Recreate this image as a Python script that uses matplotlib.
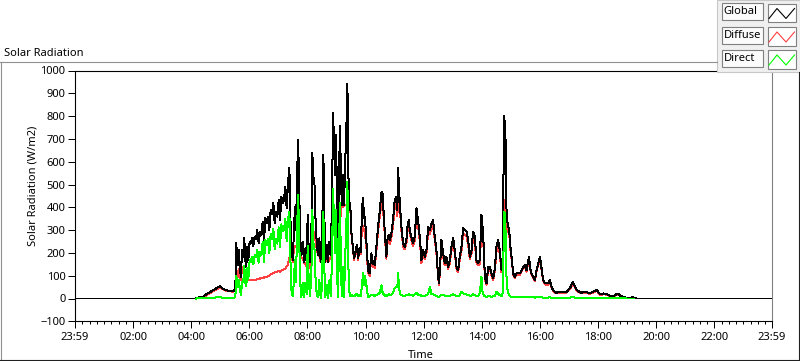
import numpy as np
import matplotlib
matplotlib.use("Agg")
import matplotlib.pyplot as plt
from matplotlib.lines import Line2D
from matplotlib.patches import Rectangle

plt.rcParams['font.family'] = ['Noto Sans', 'DejaVu Sans']

nan = np.nan
# time of day in minutes after midnight
t_min = [0, 250, 255, 258, 262, 271, 285, 299, 305, 312, 326, 331,
         333, 335, 336.5, 338.5, 340.6, 342.7, 344.7, 347.5, 349.5, 351.6, 353.7, 355.8, 357.8,
         360.6, 362.6, 365.4, 368.2, 371, 373.7, 376.4, 379.2, 382, 384.7, 387.5, 390.2, 393,
         395.7, 398.5, 401.2, 404, 406.7, 409.5, 412.3, 415, 417.8, 420.5, 423.3, 426, 428.8,
         431.5, 434.3, 437, 439.8, 442.6, 444.6, 446.7, 449.5, 452.2, 454, 456, 458, 460.4,
         462.5, 464.5, 467.3, 470, 472.8, 475.5, 478.3, 480.4, 482.4, 485.2, 488, 490, 492.1,
         494.1, 496.2, 499, 501.7, 504.5, 507.2, 510, 512.8, 514.8, 516.9, 519.6, 522.4, 525.2,
         527.9, 530.7, 532.7, 534.8, 536.9, 539, 541, 543.1, 545.1, 547.2, 549.3, 551.3, 553.4,
         555.5, 557.5, 560.3, 562.4, 564.4, 566.5, 568.6, 570.6, 573.4, 576.1, 578.9, 581.7,
         584.4, 587.2, 589.9, 592.7, 594.7, 596.8, 598.5, 601.5, 605, 608.4, 611.9, 615.3,
         618.8, 622.2, 625.7, 629.1, 632.6, 634.6, 638.1, 640.8, 642.9, 645, 647.7, 650.5,
         653.2, 656.7, 660.1, 663.6, 665.6, 667, 669.1, 671.1, 673.9, 677.3, 680.8, 684.2,
         686.3, 689, 691.1, 694.6, 698, 701.5, 704.9, 707, 709.7, 712.5, 715.2, 718.7, 722.1,
         725.6, 729, 732.5, 735.9, 739.3, 742.8, 746.2, 749.7, 751.7, 756.5, 760, 763.4, 766.9,
         770.3, 773.8, 777.2, 780.7, 784.1, 787.6, 791, 794.4, 797.9, 801.3, 804.8, 808.2,
         811.7, 815.1, 818.6, 822, 825.4, 828.9, 832.3, 835.8, 839.2, 841.3, 844, 846.1, 849.6,
         853, 856.5, 859.9, 863.3, 866.8, 870.2, 873.7, 877.1, 880.6, 882.6, 884, 885.4, 886.1,
         887.5, 888.8, 890.9, 893, 896.4, 899.2, 901.2, 904.7, 908.1, 911.6, 915, 918.4, 921.9,
         925.3, 928.8, 932.2, 935.7, 937.7, 939.1, 942.6, 946, 949.4, 952.9, 956.3, 959.8,
         961.8, 964.6, 966.7, 970.1, 974, 977, 980.5, 983.9, 987.3, 994, 1001, 1008, 1015,
         1021.7, 1028, 1032, 1036, 1041, 1046, 1053, 1063, 1070, 1077.5, 1084, 1091, 1098,
         1104, 1110, 1115, 1121, 1126, 1131, 1139, 1145, 1150, 1155, 1160, 1440]

global_wm2 = [0, 0, 5, 8, 4, 18, 36, 54, 44, 36, 31, 40,
              242, 168, 146, 212, 124, 95, 212, 183, 264, 168, 139, 227, 168,
              249, 240, 264, 230, 271, 262, 300, 242, 290, 280, 337, 250, 352,
              330, 359, 300, 388, 370, 418, 330, 380, 359, 432, 344, 447, 420,
              432, 491, 396, 506, 572, 359, 242, 168, 300, 400, 300, 469, 696,
              542, 278, 190, 249, 161, 220, 161, 366, 220, 161, 278, 638, 513,
              528, 366, 249, 190, 264, 161, 249, 630, 366, 161, 234, 161, 249,
              190, 425, 813, 689, 542, 718, 410, 249, 542, 755, 498, 410, 542,
              410, 572, 748, 941, 542, 425, 396, 293, 234, 176, 205, 234,
              176, 220, 205, 396, 440, 352, 359, 256, 124, 110, 198, 154,
              147, 227, 315, 381, 462, 469, 344, 256, 183, 256, 278, 256,
              286, 344, 432, 447, 388, 572, 476, 403, 315, 242, 227, 256,
              315, 344, 300, 271, 242, 271, 396, 359, 315, 256, 168, 212, 183,
              212, 315, 300, 330, 344, 271, 212, 95, 66, 256, 198, 154, 183,
              139, 168, 227, 264, 212, 139, 124, 183, 227, 308, 300, 293,
              256, 183, 212, 293, 271, 168, 154, 168, 366, 315, 227, 95, 66,
              139, 139, 110, 88, 132, 227, 256, 212, 124, 168, 432, 700, 799,
              760, 700, 388, 330, 300, 220, 183, 110, 95, 110, 110, 110, 124,
              139, 146, 124, 168, 183, 139, 110, 95, 80, 124, 154, 183,
              154, 110, 80, 66, 66, 66, 80, 51, 35, 25, 29, 27, 29,
              45, 73, 55, 36, 30, 25, 30, 23, 30, 37, 18, 22, 19,
              12, 10, 15, 22, 12, 8, 3, 0, 6, 2, 0, 0]

diffuse_wm2 = [nan, 0, 3, 5, 3, 14, 32, 47, 42, 34, 30, 38,
               125, 105, 95, 130, 90, 80, 140, 110, 120, 95, 85, 90, 80,
               80, 80, 80, 80, 82, 82, 85, 85, 88, 88, 90, 92, 95,
               95, 98, 100, 105, 108, 112, 115, 118, 118, 120, 118, 122, 125,
               128, 132, 140, 150, 180, 170, 200, 160, 220, 230, 225, 230, 230,
               220, 200, 180, 175, 160, 150, 140, 135, 132, 140, 180, 250, 290,
               293, 260, 220, 190, 190, 160, 200, 249, 240, 160, 170, 160, 170,
               180, 260, 340, 352, 340, 330, 300, 245, 290, 330, 396, 400, 400,
               405, 410, 410, 420, 400, 396, 390, 285, 225, 170, 195, 222,
               170, 210, 195, 330, 308, 300, 290, 230, 115, 100, 185, 140,
               135, 210, 295, 355, 420, 440, 330, 245, 175, 240, 260, 240,
               270, 320, 400, 420, 360, 460, 430, 380, 300, 230, 215, 240,
               300, 325, 285, 255, 230, 255, 370, 335, 295, 240, 155, 200, 172,
               198, 295, 282, 310, 320, 255, 200, 90, 60, 240, 185, 145, 170,
               130, 155, 210, 245, 198, 130, 115, 170, 210, 285, 280, 272,
               240, 172, 198, 272, 252, 158, 145, 150, 330, 290, 212, 88, 60,
               130, 130, 102, 80, 120, 205, 235, 195, 115, 150, 300, 400, 430,
               420, 400, 330, 300, 285, 210, 175, 105, 90, 105, 105, 104, 118,
               132, 138, 118, 160, 172, 132, 104, 90, 76, 118, 146, 172,
               146, 104, 76, 62, 60, 60, 74, 47, 32, 22, 26, 24, 26,
               40, 68, 50, 33, 27, 22, 27, 20, 27, 33, 15, 19, 16,
               10, 8, 12, 18, 9, 6, 2, 0, 4, 1, nan, nan]

direct_wm2 = [nan, 0, 1, 2, 1, 3, 4, 5, 4, 3, 3, 5,
              100, 60, 50, 80, 35, 15, 70, 75, 145, 70, 55, 135, 85,
              169, 160, 184, 150, 189, 180, 215, 157, 202, 192, 247, 158, 257,
              235, 261, 200, 283, 262, 306, 215, 262, 241, 312, 226, 325, 295,
              304, 350, 250, 350, 380, 180, 40, 10, 80, 170, 70, 240, 454,
              330, 80, 5, 70, 5, 70, 20, 230, 90, 10, 100, 390, 220,
              240, 100, 20, 5, 80, 3, 50, 380, 130, 5, 60, 3, 80,
              10, 170, 480, 340, 200, 390, 110, 5, 250, 420, 100, 10, 140,
              5, 160, 330, 513, 140, 30, 10, 15, 12, 10, 15, 20,
              10, 15, 12, 60, 110, 60, 100, 60, 7, 10, 15, 15,
              12, 15, 18, 25, 58, 30, 15, 12, 10, 15, 18, 15,
              18, 25, 45, 50, 51, 110, 45, 20, 15, 12, 12, 15,
              15, 18, 15, 15, 12, 18, 25, 20, 15, 15, 12, 12, 12,
              15, 20, 51, 20, 18, 15, 12, 8, 8, 15, 15, 12, 12,
              10, 12, 15, 18, 14, 12, 10, 15, 29, 22, 18, 18,
              15, 12, 12, 18, 15, 12, 10, 25, 95, 30, 15, 10, 8,
              10, 10, 8, 10, 12, 29, 20, 15, 10, 20, 120, 300, 381,
              370, 300, 95, 36, 15, 8, 7, 6, 5, 6, 5, 5, 6,
              5, 6, 5, 6, 6, 5, 5, 5, 4, 5, 5, 6,
              5, 5, 4, 4, 4, 4, 5, 4, 4, 3, 3, 3, 3,
              4, 5, 4, 3, 3, 3, 3, 2, 3, 3, 2, 2, 2,
              1, 1, 1, 1, 1, 1, 0, 0, 0, 0, nan, nan]

series_names = ["Global", "Diffuse", "Direct"]
series_colors = ["#000000", "#ff4040", "#00ff00"]

x_tick_pos = [-1, 120, 240, 360, 480, 600, 720, 840, 960, 1080, 1200, 1320, 1439]
x_tick_labels = ["23:59", "02:00", "04:00", "06:00", "08:00", "10:00", "12:00",
                 "14:00", "16:00", "18:00", "20:00", "22:00", "23:59"]
y_ticks = list(range(-100, 1001, 100))

W, H = 800, 361
fig = plt.figure(figsize=(W / 100, H / 100), dpi=100, facecolor="white")


def fx(x):
    return x / W


def fy(y):
    return 1 - y / H


ax = fig.add_axes([fx(74.5), fy(321.3), fx(772) - fx(74.5), fy(70.5) - fy(321.3)])
ax.set_facecolor("white")

LW = 0.72
t = np.array(t_min, dtype=float)
ax.plot(t, np.array(diffuse_wm2, float), color=series_colors[1], lw=LW, antialiased=False, zorder=2)
ax.plot(t, np.array(global_wm2, float), color=series_colors[0], lw=LW, antialiased=False, zorder=3)
ax.plot(t, np.array(direct_wm2, float), color=series_colors[2], lw=LW, antialiased=False, zorder=4)

ax.set_xlim(-1, 1439)
ax.set_ylim(-100, 1000)
ax.set_xticks(x_tick_pos)
ax.set_xticklabels(x_tick_labels)
ax.set_xticks(np.arange(15, 1439, 15), minor=True)
ax.set_yticks(y_ticks)
ax.tick_params(axis="both", which="major", labelsize=8, colors="black", width=0.72)
ax.tick_params(axis="y", which="major", length=5, pad=1.5)
ax.tick_params(axis="x", which="major", length=5, pad=2.5)
ax.tick_params(axis="x", which="minor", length=2.5, width=0.72)
for s in ["top", "left", "bottom"]:
    ax.spines[s].set_color("black")
    ax.spines[s].set_linewidth(0.8)
ax.spines["right"].set_color("#808080")
ax.spines["right"].set_linewidth(0.8)

# outer frame
fig.add_artist(Line2D([fx(0), fx(717)], [fy(61.5), fy(61.5)], color="#909090", lw=0.8))
fig.add_artist(Line2D([fx(0.5), fx(0.5)], [fy(61.5), fy(361)], color="#909090", lw=0.8))
fig.add_artist(Line2D([fx(0), fx(800)], [fy(360.3), fy(360.3)], color="#202020", lw=0.8))
fig.add_artist(Line2D([fx(799.3), fx(799.3)], [fy(72), fy(361)], color="#202020", lw=0.8))

# titles
fig.text(fx(4), fy(55.5), "Solar Radiation", fontsize=8, ha="left", va="baseline")
fig.text(fx(33), fy(186), "Solar Radiation (W/m2)", fontsize=8, rotation=90, ha="center", va="center")
fig.text(fx(421), fy(355), "Time", fontsize=8, ha="center", va="center")

# legend panel
fig.add_artist(Rectangle((fx(716.5), fy(72)), fx(83.5), fy(0) - fy(72), facecolor="#f0f0f0",
                         edgecolor="#c8c8c8", lw=0.8))
row_tops = [3.5, 27, 50]
for name, col, top in zip(series_names, series_colors, row_tops):
    fig.add_artist(Rectangle((fx(721.5), fy(top + 16.5)), fx(41), fy(0) - fy(16.5),
                             facecolor="#fbfbfb", edgecolor="#808080", lw=0.8))
    fig.text(fx(723.5), fy(top + 8.5), name, fontsize=8, ha="left", va="center")
    fig.add_artist(Rectangle((fx(767.5), fy(top + 18.5)), fx(28.5), fy(0) - fy(18.5),
                             facecolor="white", edgecolor="#808080", lw=0.8))
    xs = [769, 777, 786, 794.5]
    ys = [top + 15, top + 5, top + 15, top + 5]
    fig.add_artist(Line2D([fx(v) for v in xs], [fy(v) for v in ys], color=col, lw=0.8))

fig.savefig("out.png", dpi=100, facecolor="white")
